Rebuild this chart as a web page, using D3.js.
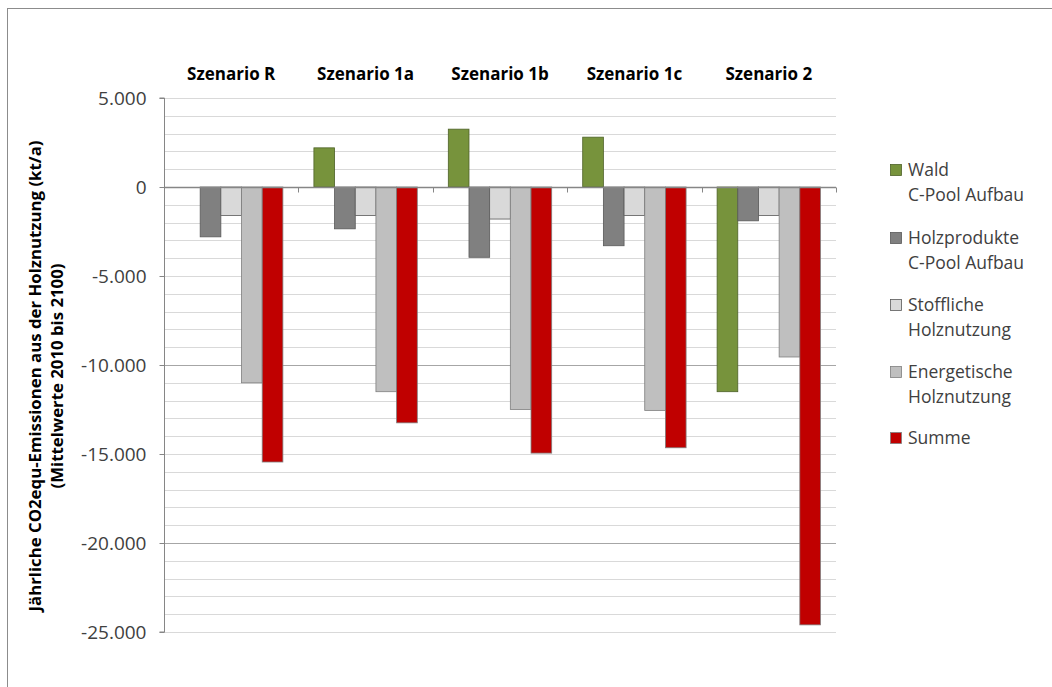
<!DOCTYPE html>
<html>
<head>
<meta charset="utf-8">
<script src="https://cdn.jsdelivr.net/npm/d3@7"></script>
<style>
  html, body { margin: 0; padding: 0; background: #fff; }
  svg { display: block; font-family: "Open Sans", "Noto Sans", sans-serif; }
</style>
</head>
<body>
<svg id="chart" width="1052" height="687"></svg>
<script>
// Szenarien (Kategorien)
const scenarios = ["Szenario R", "Szenario 1a", "Szenario 1b", "Szenario 1c", "Szenario 2"];
// Reihen
const seriesNames = ["Wald\nC-Pool Aufbau", "Holzprodukte\nC-Pool Aufbau", "Stoffliche\nHolznutzung", "Energetische\nHolznutzung", "Summe"];
const seriesColors = ["#77933c", "#808080", "#d9d9d9", "#bfbfbf", "#c00000"];
const seriesStroke = ["#4e6228", "#595959", "#595959", "#7f7f7f", "#7f7f7f"];
// Werte in kt/a, je Reihe über die Szenarien
const wald         = [0, 2200, 3250, 2800, -11500];
const holzprodukte = [-2800, -2350, -3950, -3300, -1900];
const stofflich    = [-1600, -1600, -1800, -1600, -1600];
const energetisch  = [-11000, -11500, -12500, -12550, -9550];
const summe        = [-15450, -13250, -14950, -14650, -24600];
const seriesValues = [wald, holzprodukte, stofflich, energetisch, summe];
// Achse
const yTicks = [5000, 0, -5000, -10000, -15000, -20000, -25000];
const yDomain = [-25000, 5000];

const svg = d3.select("#chart");

// Rahmen des Diagrammbereichs
svg.append("rect")
  .attr("x", 7.5).attr("y", 8.5)
  .attr("width", 1060).attr("height", 700)
  .attr("fill", "#fff").attr("stroke", "#8c8c8c").attr("stroke-width", 1);

const plot = { left: 164, right: 836, top: 98, bottom: 632 };

const y = d3.scaleLinear().domain(yDomain).range([plot.bottom, plot.top]);
const x0 = d3.scaleBand().domain(scenarios).range([plot.left, plot.right]).paddingInner(0).paddingOuter(0);
// Lückenbreite 150 %: je 0,75 Balkenbreite links und rechts
const x1 = d3.scaleBand().domain(d3.range(seriesNames.length))
  .range([0, x0.bandwidth()]).paddingInner(0).paddingOuter(0.75);

// Hilfslinien (alle 1.000)
const minor = d3.range(yDomain[0], yDomain[1] + 1, 1000).filter(v => v !== 0);
svg.append("g").selectAll("line").data(minor).join("line")
  .attr("x1", plot.left).attr("x2", plot.right)
  .attr("y1", d => Math.round(y(d)) + 0.5).attr("y2", d => Math.round(y(d)) + 0.5)
  .attr("stroke", d => (d === -10000 || d === -20000) ? "#a6a6a6" : "#d9d9d9")
  .attr("stroke-width", 1);

// Balken
const groups = svg.append("g").selectAll("g").data(scenarios).join("g")
  .attr("transform", d => `translate(${x0(d)},0)`);
groups.selectAll("rect")
  .data((d, i) => seriesValues.map((vals, s) => ({ s, v: vals[i] })).filter(e => e.v !== 0))
  .join("rect")
  .attr("x", d => x1(d.s))
  .attr("width", x1.bandwidth())
  .attr("y", d => y(Math.max(0, d.v)))
  .attr("height", d => Math.abs(y(d.v) - y(0)))
  .attr("fill", d => seriesColors[d.s])
  .attr("stroke", d => seriesStroke[d.s])
  .attr("stroke-width", 0.8);

// Y-Achse
const yAxis = d3.axisLeft(y).tickValues(yTicks).tickSize(5).tickPadding(13)
  .tickFormat(d => d3.format(",")(d).replace(/,/g, ".").replace("−", "-"));
const gy = svg.append("g").attr("transform", `translate(${plot.left + 0.5},0)`).call(yAxis);
gy.select(".domain").attr("stroke", "#868686").attr("d", `M-5,${y(5000)}H0V${y(-25000)}H-5`);
gy.selectAll(".tick line").attr("stroke", "#868686");
gy.selectAll(".tick text").attr("fill", "#404040").style("font-size", "19px").style("font-family", "'Open Sans', sans-serif");

// Nulllinie mit Kategorie-Teilstrichen
const y0 = Math.round(y(0)) + 0.5;
svg.append("line").attr("x1", plot.left).attr("x2", plot.right)
  .attr("y1", y0).attr("y2", y0).attr("stroke", "#868686").attr("stroke-width", 1.3);
const bounds = scenarios.map(s => x0(s) + x0.bandwidth()).concat([plot.left]);
svg.append("g").selectAll("line").data(bounds).join("line")
  .attr("x1", d => Math.round(d) + 0.5).attr("x2", d => Math.round(d) + 0.5)
  .attr("y1", y0).attr("y2", y0 + 5)
  .attr("stroke", "#868686");

// Szenario-Beschriftungen oben
svg.append("g").selectAll("text").data(scenarios).join("text")
  .attr("x", d => x0(d) + x0.bandwidth() / 2)
  .attr("y", 80)
  .attr("text-anchor", "middle")
  .attr("fill", "#000")
  .style("font-size", "17px").style("font-weight", "bold")
  .text(d => d);

// Achsentitel (zweizeilig, gedreht)
const title = svg.append("text")
  .attr("transform", `translate(0,376) rotate(-90)`)
  .attr("text-anchor", "middle")
  .style("font-size", "16.8px").style("font-weight", "bold").attr("fill", "#000");
title.append("tspan").attr("x", 0).attr("y", 41).text("Jährliche CO2equ-Emissionen aus der Holznutzung (kt/a)");
title.append("tspan").attr("x", 0).attr("y", 63).text("(Mittelwerte 2010 bis 2100)");

// Legende
const legendTops = [170, 238, 305, 372, 438];
const legend = svg.append("g").selectAll("g").data(seriesNames).join("g")
  .attr("transform", (d, i) => `translate(890,${legendTops[i]})`);
legend.append("rect")
  .attr("x", 0.5).attr("y", -5.5).attr("width", 11).attr("height", 11)
  .attr("fill", (d, i) => seriesColors[i])
  .attr("stroke", (d, i) => seriesStroke[i]).attr("stroke-width", 0.8);
legend.each(function(d) {
  const t = d3.select(this).append("text").attr("x", 18).attr("y", 6)
    .attr("fill", "#404040").style("font-size", "17.5px");
  d.split("\n").forEach((line, k) => {
    t.append("tspan").attr("x", 18).attr("dy", k === 0 ? 0 : 25).text(line);
  });
});
</script>
</body>
</html>
